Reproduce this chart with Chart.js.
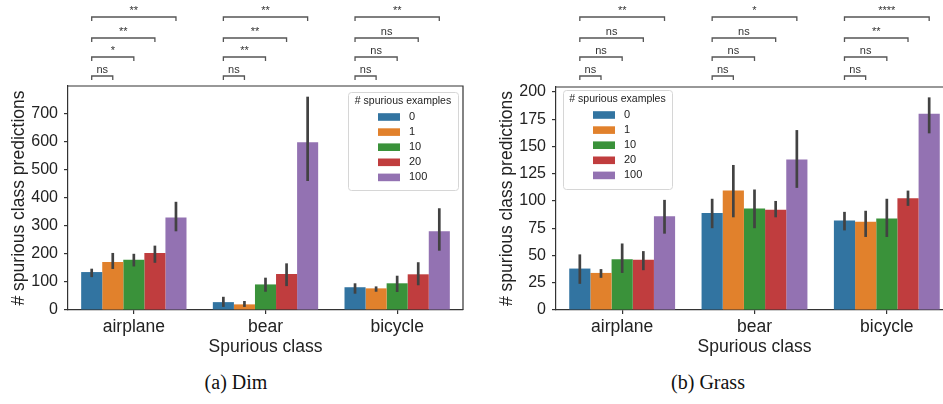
<!DOCTYPE html>
<html>
<head>
<meta charset="utf-8">
<script src="https://cdn.jsdelivr.net/npm/chart.js@4"></script>
<style>
  html, body { margin: 0; padding: 0; background: #fff; width: 943px; height: 404px; overflow: hidden; }
  .wrap { position: absolute; top: 0; }
  .caption { position: absolute; top: 371px; font-family: "Liberation Serif", "DejaVu Serif", serif; font-size: 20px; color: #111; transform: translateX(-50%); white-space: nowrap; }
</style>
</head>
<body>
<div class="wrap" style="left:0px"><canvas id="dimChart" width="470" height="360"></canvas></div>
<div class="wrap" style="left:488px"><canvas id="grassChart" width="472" height="360"></canvas></div>
<div class="caption" style="left:236px">(a) Dim</div>
<div class="caption" style="left:708px">(b) Grass</div>
<script>
const categories = ['airplane', 'bear', 'bicycle'];
const spuriousCounts = ['0', '1', '10', '20', '100'];
const barColors = ['#3274a1', '#e1812c', '#3a923a', '#c03d3e', '#9372b2'];

// Dim: one row per # spurious examples, one value per category
const dimMean = [
    [135, 28, 81],
    [171, 20, 77],
    [179, 91, 95],
    [203, 128, 127],
    [329, 597, 280]
];
const dimLow = [
    [117, 11, 58],
    [146, 11, 65],
    [155, 65, 64],
    [168, 85, 88],
    [280, 459, 211]
];
const dimHigh = [
    [147, 47, 95],
    [203, 32, 84],
    [200, 115, 122],
    [229, 166, 170],
    [385, 759, 362]
];
// significance vs. 0 examples, per category: 1, 10, 20, 100
const dimSig = [
    ['ns', '*', '**', '**'],
    ['ns', '**', '**', '**'],
    ['ns', 'ns', 'ns', '**']
];
const dimTicks = [0, 100, 200, 300, 400, 500, 600, 700];
const dimMax = 797;

// Grass
const grassMean = [
    [38, 89, 82],
    [34, 109.5, 81],
    [46.5, 93, 84],
    [46, 92, 102.5],
    [86, 138, 180]
];
const grassLow = [
    [24, 75, 73],
    [29.5, 85, 67],
    [34, 75, 67],
    [36.5, 85, 95.5],
    [70, 112, 162]
];
const grassHigh = [
    [51, 102, 90],
    [37.5, 133, 91],
    [61, 110.5, 102],
    [54, 100, 109.5],
    [101, 165, 195]
];
const grassSig = [
    ['ns', 'ns', 'ns', '**'],
    ['ns', 'ns', 'ns', '*'],
    ['ns', 'ns', '**', '****']
];
const grassTicks = [0, 25, 50, 75, 100, 125, 150, 175, 200];
const grassMax = 204.5;

const SANS = '"Liberation Sans", Arial, sans-serif';
const AXIS = '#333';

// error bars, box frame, significance brackets and the legend
const statsPlugin = {
    id: 'stats',
    afterDatasetsDraw(chart, args, opts) {
        const ctx = chart.ctx;
        const y = chart.scales.y;
        ctx.save();
        ctx.strokeStyle = '#424242';
        ctx.lineWidth = 2.7;
        chart.data.datasets.forEach((ds, i) => {
            chart.getDatasetMeta(i).data.forEach((bar, j) => {
                ctx.beginPath();
                ctx.moveTo(bar.x, y.getPixelForValue(opts.low[i][j]));
                ctx.lineTo(bar.x, y.getPixelForValue(opts.high[i][j]));
                ctx.stroke();
            });
        });
        ctx.restore();
    },
    afterDraw(chart, args, opts) {
        const ctx = chart.ctx;
        const a = chart.chartArea;
        ctx.save();
        // top + right spines
        ctx.strokeStyle = AXIS;
        ctx.lineWidth = 1.2;
        ctx.beginPath();
        ctx.moveTo(a.left, a.top);
        ctx.lineTo(a.right, a.top);
        ctx.lineTo(a.right, a.bottom);
        ctx.stroke();

        // brackets
        const levels = [76, 57, 38, 17];
        ctx.strokeStyle = '#555';
        ctx.lineWidth = 1.3;
        ctx.fillStyle = '#333';
        ctx.font = '11px ' + SANS;
        ctx.textAlign = 'center';
        ctx.textBaseline = 'bottom';
        categories.forEach((c, j) => {
            const x0 = chart.getDatasetMeta(0).data[j].x;
            for (let k = 1; k < chart.data.datasets.length; k++) {
                const x1 = chart.getDatasetMeta(k).data[j].x;
                const ly = levels[k - 1];
                ctx.beginPath();
                ctx.moveTo(x0, ly + 4);
                ctx.lineTo(x0, ly);
                ctx.lineTo(x1, ly);
                ctx.lineTo(x1, ly + 4);
                ctx.stroke();
                ctx.fillText(opts.sig[j][k - 1], (x0 + x1) / 2, ly - 1);
            }
        });

        // legend
        const L = opts.legend;
        const bx = a.left + L.dx, by = a.top + L.dy;
        ctx.fillStyle = 'rgba(255,255,255,0.85)';
        ctx.strokeStyle = '#d6d6d6';
        ctx.lineWidth = 1;
        ctx.beginPath();
        ctx.roundRect(bx + 0.5, by + 0.5, L.w, L.h, 3);
        ctx.fill();
        ctx.stroke();
        ctx.fillStyle = '#222';
        ctx.font = '10.5px ' + SANS;
        ctx.textAlign = 'center';
        ctx.textBaseline = 'middle';
        ctx.fillText('# spurious examples', bx + L.w / 2, by + 9);
        ctx.textAlign = 'left';
        ctx.font = '11px ' + SANS;
        chart.data.datasets.forEach((ds, i) => {
            const yy = by + 25 + i * 15.1;
            ctx.fillStyle = ds.backgroundColor;
            ctx.fillRect(bx + 30, yy - 3.8, 22, 7.6);
            ctx.fillStyle = '#222';
            ctx.fillText(ds.label, bx + 61, yy);
        });
        ctx.restore();
    }
};

function createBarChart(id, means, low, high, sig, ticks, yMax, legendPos, topPad) {
    const datasets = spuriousCounts.map((lbl, i) => ({
        label: lbl,
        data: means[i],
        backgroundColor: barColors[i],
        borderWidth: 0,
        categoryPercentage: 0.8,
        barPercentage: 1.0
    }));
    return new Chart(document.getElementById(id), {
        type: 'bar',
        data: { labels: categories, datasets: datasets },
        plugins: [statsPlugin],
        options: {
            responsive: false,
            animation: false,
            devicePixelRatio: 1,
            layout: { padding: { top: topPad, right: 7, left: 0, bottom: 0 } },
            plugins: {
                legend: { display: false },
                tooltip: { enabled: false },
                stats: { low: low, high: high, sig: sig, legend: legendPos }
            },
            scales: {
                x: {
                    grid: { display: true, drawOnChartArea: false, offset: false, tickLength: 4, color: AXIS, lineWidth: 1.2 },
                    border: { display: true, color: AXIS, width: 1.2 },
                    ticks: { color: '#222', font: { family: SANS, size: 17.5 }, padding: 3 },
                    title: { display: true, text: 'Spurious class', color: '#222', font: { family: SANS, size: 17.5 }, padding: { top: 0, bottom: 2.5 } },
                    afterFit: s => { s.height = 50; }
                },
                y: {
                    min: 0,
                    max: yMax,
                    afterBuildTicks: s => { s.ticks = ticks.map(v => ({ value: v })); },
                    grid: { display: true, drawOnChartArea: false, tickLength: 4, color: AXIS, lineWidth: 1.2 },
                    border: { display: true, color: AXIS, width: 1.2 },
                    ticks: { color: '#222', font: { family: SANS, size: 16 }, padding: 6 },
                    title: { display: true, text: '# spurious class predictions', color: '#222', font: { family: SANS, size: 17.5 }, padding: { top: 8.5, bottom: 0 } },
                    afterFit: s => { s.width = 68; }
                }
            }
        }
    });
}

const dimChart = createBarChart('dimChart', dimMean, dimLow, dimHigh, dimSig, dimTicks, dimMax,
    { dx: 280, dy: 6, w: 110, h: 98 }, 86);
const grassChart = createBarChart('grassChart', grassMean, grassLow, grassHigh, grassSig, grassTicks, grassMax,
    { dx: 7, dy: 3, w: 109, h: 99 }, 87);
</script>
</body>
</html>
